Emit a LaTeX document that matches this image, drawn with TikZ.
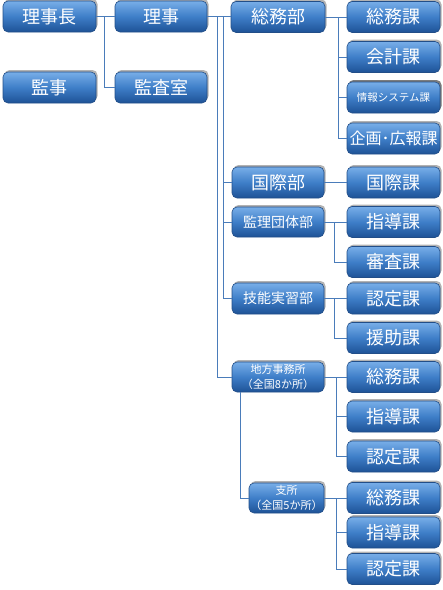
\documentclass[tikz,border=0pt]{standalone}
\usepackage{fontspec}
\newfontfamily\jp{Noto Sans CJK JP}
\usetikzlibrary{shadows}
\definecolor{btop}{RGB}{120,174,232}
\definecolor{bmid}{RGB}{62,126,200}
\definecolor{bbot}{RGB}{30,82,150}
\definecolor{bedge}{RGB}{34,78,136}
\definecolor{lnk}{RGB}{74,124,186}
\tikzset{
  orgbox/.style={rectangle, rounded corners=5pt, draw=bedge, line width=0.6pt,
    top color=btop, bottom color=bbot, middle color=bmid,
    text=white, inner sep=0pt, align=center,
    drop shadow={shadow xshift=1.5pt, shadow yshift=2pt, fill=black, opacity=0.3},
    font=\jp\fontsize{18}{20}\selectfont},
  big/.style={orgbox},
  mid/.style={orgbox, font=\jp\fontsize{14}{16}\selectfont},
  small/.style={orgbox, font=\jp\fontsize{11}{15}\selectfont},
  tiny/.style={orgbox, font=\jp\fontsize{10.5}{12}\selectfont},
  rc/.style={orgbox, minimum width=93pt, minimum height=31pt},
  lnkline/.style={draw=lnk, line width=0.9pt}
}
\begin{document}
\begin{tikzpicture}[x=1pt,y=-1pt]
\useasboundingbox (0,0) rectangle (443,590);
% left nodes
\node[big, minimum width=93pt, minimum height=31pt] (chair) at (49.5,16.5) {理事長};
\node[big, minimum width=92pt, minimum height=31pt] (riji) at (161,16.5) {理事};
\node[big, minimum width=93pt, minimum height=31pt] (kanji) at (49.5,87.5) {監事};
\node[big, minimum width=92pt, minimum height=31pt] (kansa) at (161,87.5) {監査室};
% departments
\node[big, minimum width=94pt, minimum height=31pt] (soumubu) at (278,17) {総務部};
\node[big, minimum width=92pt, minimum height=31pt] (kokusaibu) at (278,182.5) {国際部};
\node[mid, minimum width=92pt, minimum height=30pt] (kanri) at (278,222) {監理団体部};
\node[mid, minimum width=92pt, minimum height=31pt] (ginou) at (278,298.5) {技能実習部};
\node[small, minimum width=92pt, minimum height=30pt] (chihou) at (278,377) {地方事務所\\（全国8か所）};
\node[small, minimum width=75pt, minimum height=30pt] (shisho) at (286.5,498) {支所\\（全国5か所）};
% sections
\node[rc] (r1) at (393.5,17) {総務課};
\node[rc] (r2) at (393.5,57) {会計課};
\node[rc, tiny] (r3) at (393.5,97.5) {情報システム課};
\node[rc, font=\jp\fontsize{16}{18}\selectfont] (r4) at (393.5,138.5) {企画･広報課};
\node[rc] (r5) at (393.5,182.5) {国際課};
\node[rc] (r6) at (393.5,222) {指導課};
\node[rc] (r7) at (393.5,262) {審査課};
\node[rc] (r8) at (393.5,298.5) {認定課};
\node[rc] (r9) at (393.5,338) {援助課};
\node[rc] (r10) at (393.5,377) {総務課};
\node[rc] (r11) at (393.5,416.5) {指導課};
\node[rc] (r12) at (393.5,456.5) {認定課};
\node[rc] (r13) at (393.5,498) {総務課};
\node[rc] (r14) at (393.5,532.5) {指導課};
\node[rc] (r15) at (393.5,569) {認定課};
% connectors
\begin{scope}[lnkline]
\draw (chair.east) -- (riji.west);
\draw ([xshift=8pt]chair.east) |- (kansa.west);
\draw (riji.east) -- (riji.east -| soumubu.west);
\draw ([xshift=10pt]riji.east) |- (chihou.west);
\draw ([xshift=16pt]riji.east) |- (kokusaibu.west);
\draw ([xshift=16pt]riji.east) |- (kanri.west);
\draw ([xshift=16pt]riji.east) |- (ginou.west);
\draw (soumubu.east) -- (r1.west);
\draw ([xshift=13pt]soumubu.east) |- (r2.west);
\draw ([xshift=13pt]soumubu.east) |- (r3.west);
\draw ([xshift=13pt]soumubu.east) |- (r4.west);
\draw (kokusaibu.east) -- (r5.west);
\draw (kanri.east) -- (r6.west);
\draw ([xshift=10pt]kanri.east) |- (r7.west);
\draw (ginou.east) -- (r8.west);
\draw ([xshift=10pt]ginou.east) |- (r9.west);
\draw (chihou.east) -- (r10.west);
\draw ([xshift=12pt]chihou.east) |- (r11.west);
\draw ([xshift=12pt]chihou.east) |- (r12.west);
\draw ([xshift=9pt]chihou.south west) |- (shisho.west);
\draw (shisho.east) -- (r13.west);
\draw ([xshift=12pt]shisho.east) |- (r14.west);
\draw ([xshift=12pt]shisho.east) |- (r15.west);
\end{scope}
\end{tikzpicture}
\end{document}
